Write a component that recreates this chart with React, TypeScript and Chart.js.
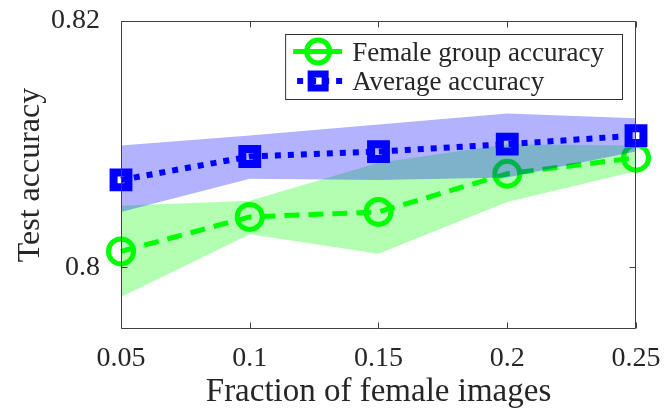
import { useEffect, useRef } from 'react';
import { Chart, registerables } from 'chart.js';

Chart.register(...registerables);

// x positions and tick labels
const fractions = [0.05, 0.1, 0.15, 0.2, 0.25];
const xTickLabels = ['0.05', '0.1', '0.15', '0.2', '0.25'];
const yTickValues = [0.8, 0.82];
const yTickLabels = ['0.8', '0.82'];
const seriesNames = ['Female group accuracy', 'Average accuracy'];

// female group accuracy + shaded band
const femaleAcc = [0.8013, 0.8041, 0.8045, 0.8076, 0.8089];
const femaleUpper = [0.805, 0.8054, 0.8085, 0.81, 0.8099];
const femaleLower = [0.7976, 0.8027, 0.8011, 0.8053, 0.8078];

// average accuracy + shaded band
const avgAcc = [0.8071, 0.809, 0.8094, 0.81, 0.8107];
const avgUpper = [0.8099, 0.8107, 0.8116, 0.8125, 0.8121];
const avgLower = [0.8045, 0.8072, 0.8071, 0.8073, 0.8094];

const FONT = "'Liberation Serif', 'Times New Roman', Times, serif";
const INK = '#262626';
const GREEN = '#00ff00';
const BLUE = '#0000ff';

const pts = (ys: number[]) => fractions.map((x, i) => ({ x, y: ys[i] }));

// drop the label overhang paddings so layout.padding alone places the plot box
const noPad = (s: any) => {
  s.paddingLeft = 0;
  s.paddingRight = 0;
  s.paddingTop = 0;
  s.paddingBottom = 0;
};

// box around the axes with inward ticks, MATLAB style
const matlabAxes = {
  id: 'matlabAxes',
  afterDatasetsDraw(chart: any) {
    const { ctx, chartArea: a, scales } = chart;
    const L = Math.round(a.left) + 0.5;
    const R = Math.round(a.right) - 0.5;
    const T = Math.round(a.top) + 0.5;
    const B = Math.round(a.bottom) - 0.5;
    ctx.save();
    ctx.strokeStyle = '#404040';
    ctx.lineWidth = 1;
    ctx.beginPath();
    ctx.rect(L, T, R - L, B - T);
    fractions.forEach((v) => {
      const x = Math.round(scales.x.getPixelForValue(v)) + 0.5;
      ctx.moveTo(x, B);
      ctx.lineTo(x, B - 6);
      ctx.moveTo(x, T);
      ctx.lineTo(x, T + 6);
    });
    yTickValues.forEach((v) => {
      const y = Math.round(scales.y.getPixelForValue(v)) + 0.5;
      ctx.moveTo(L, y);
      ctx.lineTo(L + 6, y);
      ctx.moveTo(R, y);
      ctx.lineTo(R - 6, y);
    });
    ctx.stroke();
    ctx.restore();
  },
};

// legend in a framed box with line + marker samples
const boxLegend = {
  id: 'boxLegend',
  afterDraw(chart: any) {
    const { ctx, chartArea: a } = chart;
    ctx.save();
    ctx.font = `27px ${FONT}`;
    const textW = Math.max(...seriesNames.map((n) => ctx.measureText(n).width));
    const right = Math.round(a.right) - 14;
    const top = Math.round(a.top) + 13;
    const left = right - (67 + textW + 18);
    const h = 65;
    ctx.fillStyle = '#ffffff';
    ctx.fillRect(left, top, right - left, h);
    ctx.strokeStyle = '#303030';
    ctx.lineWidth = 1;
    ctx.strokeRect(left + 0.5, top + 0.5, right - left, h);

    seriesNames.forEach((name, i) => {
      const cy = top + 17.5 + i * 29.5;
      const mx = left + 33;
      ctx.save();
      ctx.beginPath();
      if (i === 0) {
        ctx.strokeStyle = GREEN;
        ctx.lineWidth = 5;
        ctx.moveTo(left + 8, cy);
        ctx.lineTo(left + 57, cy);
        ctx.stroke();
        ctx.beginPath();
        ctx.arc(mx, cy, 11.5, 0, Math.PI * 2);
        ctx.stroke();
      } else {
        ctx.strokeStyle = BLUE;
        ctx.lineWidth = 6;
        ctx.setLineDash([6, 7]);
        ctx.moveTo(left + 12, cy);
        ctx.lineTo(left + 58, cy);
        ctx.stroke();
        ctx.setLineDash([]);
        ctx.lineWidth = 7;
        ctx.strokeRect(mx - 7, cy - 7, 14, 14);
      }
      ctx.restore();
      ctx.fillStyle = INK;
      ctx.textBaseline = 'alphabetic';
      ctx.fillText(name, left + 67, cy + 9);
    });
    ctx.restore();
  },
};

export default function App() {
  const canvasRef = useRef<HTMLCanvasElement>(null);

  useEffect(() => {
    if (!canvasRef.current) return;
    Chart.defaults.font.family = FONT;
    Chart.defaults.color = INK;

    const band = (ys: number[], color: string, fill: any, order: number) => ({
      data: pts(ys),
      borderWidth: 0,
      borderColor: 'rgba(0,0,0,0)',
      backgroundColor: color,
      pointRadius: 0,
      pointHoverRadius: 0,
      fill,
      order,
    });

    const chart = new Chart(canvasRef.current, {
      type: 'line',
      data: {
        datasets: [
          {
            label: seriesNames[1],
            data: pts(avgAcc),
            borderColor: BLUE,
            borderWidth: 6,
            borderDash: [6, 7],
            borderCapStyle: 'butt',
            pointStyle: 'rect',
            pointRadius: 10.5,
            pointBorderWidth: 8,
            pointBorderColor: BLUE,
            pointBackgroundColor: 'rgba(0,0,0,0)',
            fill: false,
            clip: false,
            order: 1,
          },
          band(avgUpper, 'rgba(0,0,255,0.3)', '+1', 2),
          band(avgLower, 'rgba(0,0,255,0.3)', false, 2),
          {
            label: seriesNames[0],
            data: pts(femaleAcc),
            borderColor: GREEN,
            borderWidth: 5,
            borderDash: [15, 9],
            borderCapStyle: 'butt',
            pointStyle: 'circle',
            pointRadius: 12.5,
            pointBorderWidth: 5,
            pointBorderColor: GREEN,
            pointBackgroundColor: 'rgba(0,0,0,0)',
            fill: false,
            clip: false,
            order: 3,
          },
          band(femaleUpper, 'rgba(0,255,0,0.3)', '+1', 4),
          band(femaleLower, 'rgba(0,255,0,0.3)', false, 4),
        ],
      },
      options: {
        animation: false,
        responsive: true,
        maintainAspectRatio: false,
        layout: { padding: { top: 21, right: 28, left: 0, bottom: 0 } },
        plugins: {
          legend: { display: false },
          tooltip: { enabled: false },
        },
        scales: {
          x: {
            type: 'linear',
            min: 0.05,
            max: 0.25,
            grid: { display: false },
            border: { display: false },
            afterBuildTicks: (s: any) => {
              s.ticks = fractions.map((value) => ({ value }));
            },
            afterFit: (s: any) => {
              s.height = 86;
              noPad(s);
            },
            ticks: {
              padding: 5,
              maxRotation: 0,
              font: { size: 28 },
              color: INK,
              callback: (_v: any, i: number) => xTickLabels[i],
            },
            title: {
              display: true,
              text: 'Fraction of female images',
              font: { size: 33 },
              color: INK,
              padding: { top: 0, bottom: 3 },
            },
          },
          y: {
            type: 'linear',
            min: 0.795,
            max: 0.82,
            grid: { display: false },
            border: { display: false },
            afterBuildTicks: (s: any) => {
              s.ticks = yTickValues.map((value) => ({ value }));
            },
            afterFit: (s: any) => {
              s.width = 121;
              noPad(s);
            },
            ticks: {
              padding: 13,
              font: { size: 28 },
              color: INK,
              callback: (_v: any, i: number) => yTickLabels[i],
            },
            title: {
              display: true,
              text: 'Test accuracy',
              font: { size: 32 },
              color: INK,
              padding: { top: 11, bottom: 0 },
            },
          },
        },
      },
      plugins: [matlabAxes, boxLegend],
    });

    return () => chart.destroy();
  }, []);

  return (
    <div style={{ position: 'fixed', left: 0, top: 0, width: 664, height: 415, background: '#fff' }}>
      <canvas ref={canvasRef} />
    </div>
  );
}
